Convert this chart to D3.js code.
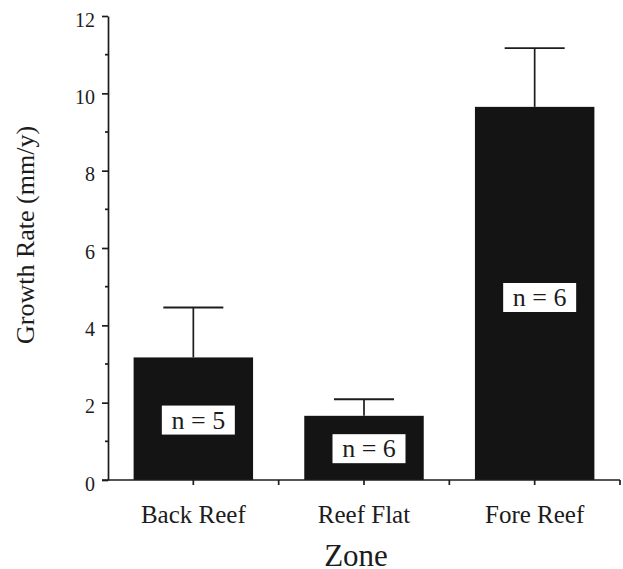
<!DOCTYPE html>
<html>
<head>
    <script type="text/javascript" src="https://cdn.jsdelivr.net/npm/d3@7/dist/d3.min.js"></script>
    <style>
    body {
        padding: 0;
        margin: 0;
        background: #fff;
    }
  </style>
</head>
<body>
    <div id="viz"></div>
    <script type="text/javascript">

    // values
    var zones = ["Back Reef", "Reef Flat", "Fore Reef"];
    var rates = [3.17, 1.66, 9.65];
    var errTops = [4.46, 2.09, 11.17];
    var sampleN = [5, 6, 6];
    var labelAt = [1.55, 0.81, 4.72];   // vertical centre of the n-box, in mm/y
    var yTicks = [0, 2, 4, 6, 8, 10, 12];
    var yMinor = [1, 3, 5, 7, 9, 11];

    // note: "top" is taken by window.top, so plot edges get a prefix
    var W = 623, H = 569;
    var pLeft = 108, pRight = 620, pTop = 16, pBottom = 480;
    var FONT = '"Liberation Serif", "Times New Roman", Times, serif';
    var INK = '#1c1c1c';

    var svg = d3.select('#viz')
      .append('svg')
      .attr('width', W)
      .attr('height', H)
      .attr('font-family', FONT);

    var x = d3.scaleBand()
      .domain(zones)
      .range([pLeft, pRight])
      .paddingInner(0.3)
      .paddingOuter(0.15);

    var y = d3.scaleLinear()
      .domain([0, 12])
      .range([pBottom, pTop]);

    function I(d) { return d; }
    function cx(d, i) { return x(zones[i]) + x.bandwidth() / 2; }

    // bars
    svg.selectAll('rect.bar').data(rates)
      .enter().append('rect')
      .attr('class', 'bar')
      .attr('x', function(d, i) { return x(zones[i]); })
      .attr('width', x.bandwidth())
      .attr('y', function(d) { return y(d); })
      .attr('height', function(d) { return y(0) - y(d); })
      .attr('fill', '#141414');

    // error bars (upper only)
    svg.selectAll('line.stem').data(errTops)
      .enter().append('line')
      .attr('class', 'stem')
      .attr('x1', cx).attr('x2', cx)
      .attr('y1', function(d, i) { return y(rates[i]); })
      .attr('y2', function(d) { return y(d); })
      .attr('stroke', INK).attr('stroke-width', 1.7);

    svg.selectAll('line.cap').data(errTops)
      .enter().append('line')
      .attr('class', 'cap')
      .attr('x1', function(d, i) { return cx(d, i) - 30; })
      .attr('x2', function(d, i) { return cx(d, i) + 30; })
      .attr('y1', function(d) { return y(d); })
      .attr('y2', function(d) { return y(d); })
      .attr('stroke', INK).attr('stroke-width', 1.9);

    // n = ... boxes
    var nb = svg.selectAll('g.nbox').data(sampleN)
      .enter().append('g')
      .attr('class', 'nbox')
      .attr('transform', function(d, i) {
        return 'translate(' + (cx(d, i) + 5) + ',' + y(labelAt[i]) + ')';
      });
    nb.append('rect')
      .attr('x', -36.5).attr('y', -14.5)
      .attr('width', 73).attr('height', 29)
      .attr('fill', '#fff');
    nb.append('text')
      .attr('text-anchor', 'middle')
      .attr('dy', '0.33em')
      .attr('fill', INK)
      .style('font-family', FONT)
      .style('font-size', '26px')
      .text(function(d) { return 'n = ' + d; });

    // y axis
    var yAxis = svg.append('g')
      .attr('transform', 'translate(' + pLeft + ',0)')
      .call(d3.axisLeft(y).tickValues(yTicks).tickSize(6).tickSizeOuter(0).tickPadding(7))
      .attr('font-family', FONT);
    yAxis.selectAll('text')
      .attr('dy', '0.5em')
      .attr('fill', INK)
      .style('font-family', FONT)
      .style('font-size', '20px');
    yAxis.select('.domain').attr('stroke', INK).attr('stroke-width', 1.7);
    yAxis.selectAll('.tick line').attr('stroke', INK).attr('stroke-width', 1.7);

    svg.selectAll('line.minor').data(yMinor)
      .enter().append('line')
      .attr('class', 'minor')
      .attr('x1', pLeft - 3).attr('x2', pLeft)
      .attr('y1', y).attr('y2', y)
      .attr('stroke', INK).attr('stroke-width', 1.7);

    // x axis
    var xAxis = svg.append('g')
      .attr('transform', 'translate(0,' + pBottom + ')')
      .call(d3.axisBottom(x).tickSize(5).tickSizeOuter(0))
      .attr('font-family', FONT);
    xAxis.select('.domain')
      .attr('d', 'M' + (pLeft - 6) + ',0H' + pRight)
      .attr('stroke', INK).attr('stroke-width', 1.7);
    xAxis.selectAll('.tick line').attr('stroke', INK).attr('stroke-width', 1.7);
    xAxis.selectAll('text')
      .attr('y', 43).attr('dy', 0)
      .attr('fill', INK)
      .style('font-family', FONT)
      .style('font-size', '25px');

    // ticks on the zone boundaries
    var bounds = d3.range(1, zones.length + 1).map(function(k) { return pLeft + k * x.step(); });
    svg.selectAll('line.bound').data(bounds)
      .enter().append('line')
      .attr('class', 'bound')
      .attr('x1', I).attr('x2', I)
      .attr('y1', pBottom).attr('y2', pBottom + 5)
      .attr('stroke', INK).attr('stroke-width', 1.7);

    // titles
    svg.append('text')
      .attr('transform', 'translate(34,235) rotate(-90)')
      .attr('text-anchor', 'middle')
      .attr('fill', INK)
      .style('font-family', FONT)
      .style('font-size', '26px')
      .text('Growth Rate (mm/y)');

    svg.append('text')
      .attr('x', 356).attr('y', 566)
      .attr('text-anchor', 'middle')
      .attr('fill', INK)
      .style('font-family', FONT)
      .style('font-size', '31px')
      .text('Zone');
    </script>
</body>
</html>
